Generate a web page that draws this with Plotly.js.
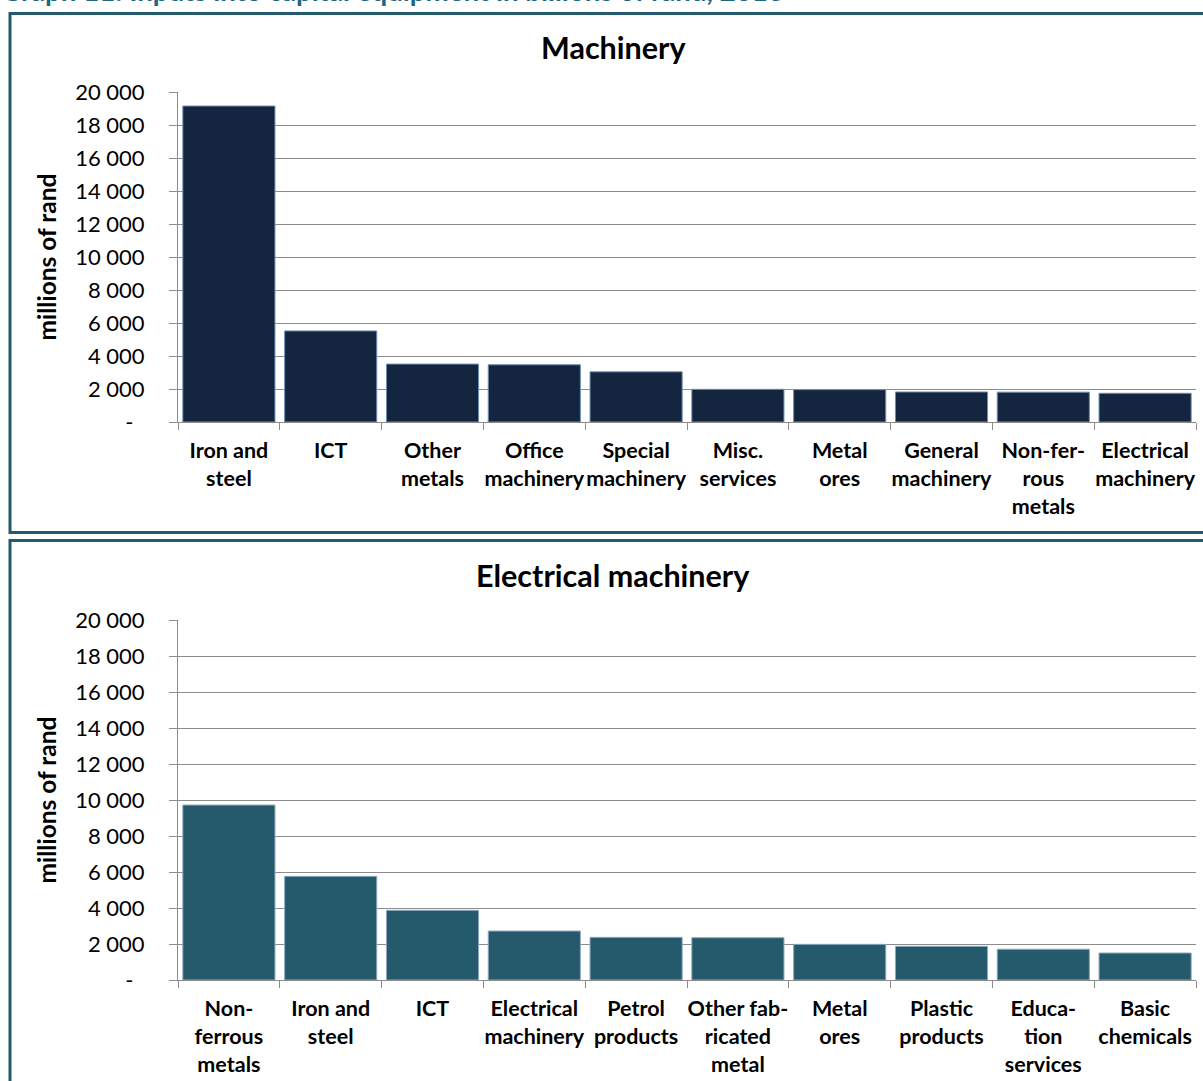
<!DOCTYPE html>
<html>
<head>
<meta charset="utf-8">
<script src="https://cdn.plot.ly/plotly-3.0.1.min.js"></script>
<style>
html,body{margin:0;padding:0;background:#fff;}
#chart{width:1203px;height:1081px;}
</style>
</head>
<body>
<div id="chart"></div>
<script>
// ---- Data ----
const machineryCategories = ["Iron and<br>steel", "ICT", "Other<br>metals", "Office<br>machinery", "Special<br>machinery", "Misc.<br>services", "Metal<br>ores", "General<br>machinery", "Non-fer-<br>rous<br>metals", "Electrical<br>machinery"];
const machineryValues = [19150, 5520, 3510, 3470, 3040, 1980, 1960, 1820, 1810, 1740];

const electricalCategories = ["Non-<br>ferrous<br>metals", "Iron and<br>steel", "ICT", "Electrical<br>machinery", "Petrol<br>products", "Other fab-<br>ricated<br>metal", "Metal<br>ores", "Plastic<br>products", "Educa-<br>tion<br>services", "Basic<br>chemicals"];
const electricalValues = [9720, 5760, 3870, 2720, 2370, 2350, 1980, 1870, 1710, 1500];

const yTickVals = [0, 2000, 4000, 6000, 8000, 10000, 12000, 14000, 16000, 18000, 20000];
const yTickText = ["-\u00a0\u00a0", "2 000", "4 000", "6 000", "8 000", "10 000", "12 000", "14 000", "16 000", "18 000", "20 000"];

const chartTitles = ["Machinery", "Electrical machinery"];
const headerText = "Graph 11: Inputs into capital equipment in billions of rand, 2013";
const yTitle = "millions of rand";

// ---- Layout helpers ----
const W = 1203, H = 1081;
const px = x => x / W;
const py = y => 1 - y / H;
const FONT = "Lato, 'Open Sans', sans-serif";
const GRID = "#8c8c8c";

const traces = [
  {type: "bar", x: machineryCategories, y: machineryValues, xaxis: "x", yaxis: "y",
   marker: {color: "#14263f", line: {color: "#6f8fb3", width: 1}}, hoverinfo: "x+y"},
  {type: "bar", x: electricalCategories, y: electricalValues, xaxis: "x2", yaxis: "y2",
   marker: {color: "#245a6b", line: {color: "#8fa8bf", width: 1}}, hoverinfo: "x+y"}
];

function xAxis(anchor) {
  return {
    domain: [px(178), px(1196)], anchor: anchor, type: "category",
    showgrid: false, showline: true, linecolor: GRID, linewidth: 1,
    ticks: "outside", tickson: "boundaries", ticklen: 7, tickcolor: GRID,
    ticklabelstandoff: 9,
    tickfont: {family: FONT, size: 21.5, color: "#000", weight: 700},
    tickangle: 0, automargin: false, fixedrange: true
  };
}
function yAxis(anchor, dom) {
  return {
    domain: dom, anchor: anchor, range: [0, 20000],
    tickvals: yTickVals, ticktext: yTickText,
    showgrid: true, gridcolor: GRID, gridwidth: 1,
    showline: true, linecolor: GRID, linewidth: 1,
    ticks: "outside", ticklen: 8, tickcolor: GRID, ticklabelstandoff: 20,
    tickfont: {family: FONT, size: 22, color: "#000"},
    zeroline: false, automargin: false, fixedrange: true,
    title: {text: yTitle, font: {family: FONT, size: 24.5, color: "#000", weight: 700}, standoff: 11}
  };
}

const layout = {
  width: W, height: H,
  margin: {l: 0, r: 0, t: 0, b: 0},
  paper_bgcolor: "#fff", plot_bgcolor: "#fff",
  showlegend: false, bargap: 0.095,
  font: {family: FONT},
  xaxis: xAxis("y"),
  yaxis: yAxis("x", [py(422), py(92)]),
  xaxis2: xAxis("y2"),
  yaxis2: yAxis("x2", [py(980), py(620)]),
  shapes: [
    {type: "rect", xref: "paper", yref: "paper", x0: px(10), x1: px(1215), y0: py(532.5), y1: py(13.5),
     line: {color: "#245a6e", width: 3}, layer: "below"},
    {type: "rect", xref: "paper", yref: "paper", x0: px(10), x1: px(1215), y0: py(1095), y1: py(540.5),
     line: {color: "#245a6e", width: 3}, layer: "below"}
  ],
  annotations: [
    {text: headerText, xref: "paper", yref: "paper", x: px(-1), y: py(9), xanchor: "left", yanchor: "bottom",
     showarrow: false, font: {family: FONT, size: 27.7, color: "#1f6680", weight: 700}},
    {text: chartTitles[0], xref: "paper", yref: "paper", x: px(613), y: py(47), xanchor: "center", yanchor: "middle",
     showarrow: false, font: {family: FONT, size: 30.5, color: "#000", weight: 700}},
    {text: chartTitles[1], xref: "paper", yref: "paper", x: px(613), y: py(575), xanchor: "center", yanchor: "middle",
     showarrow: false, font: {family: FONT, size: 30.5, color: "#000", weight: 700}}
  ]
};

Plotly.newPlot("chart", traces, layout, {displayModeBar: false, staticPlot: true});
</script>
</body>
</html>
